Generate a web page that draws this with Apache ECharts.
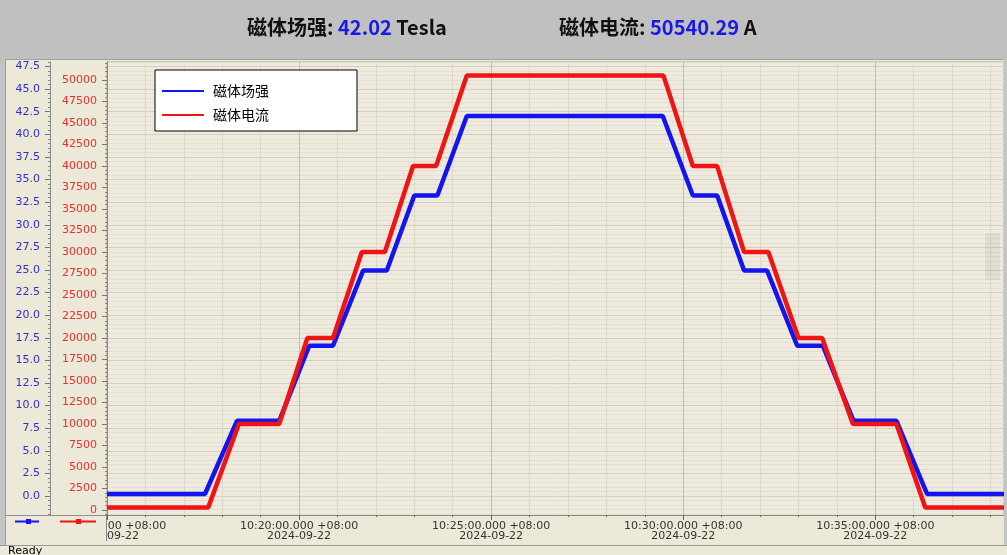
<!DOCTYPE html>
<html><head><meta charset="utf-8">
<script src="https://cdn.jsdelivr.net/npm/echarts@6/dist/echarts.min.js"></script>
<style>html,body{margin:0;padding:0;background:#ece9d8;}#c{width:1007px;height:555px;}</style>
</head><body><div id="c"></div>
<script>
// ---- data ----
const fieldTimes = ['10:15:00','10:17:33','10:18:23','10:19:29','10:20:16','10:20:53','10:21:40','10:22:17','10:23:00','10:23:36','10:24:22','10:29:28','10:30:15','10:30:53','10:31:35','10:32:11','10:32:58','10:33:38','10:34:26','10:35:33','10:36:21','10:38:21'];
const fieldValues = [0.22,0.22,8.31,8.31,16.62,16.62,24.93,24.93,33.24,33.24,42.02,42.02,33.24,33.24,24.93,24.93,16.62,16.62,8.31,8.31,0.22,0.22];
const currentTimes = ['10:15:00','10:17:38','10:18:26','10:19:29','10:20:13','10:20:53','10:21:38','10:22:14','10:22:58','10:23:34','10:24:22','10:29:29','10:30:15','10:30:53','10:31:35','10:32:13','10:33:00','10:33:37','10:34:25','10:35:33','10:36:18','10:38:21'];
const currentValues = [280,280,10000,10000,20000,20000,30000,30000,40000,40000,50540,50540,40000,40000,30000,30000,20000,20000,10000,10000,280,280];
const teslaTicks = [0,2.5,5,7.5,10,12.5,15,17.5,20,22.5,25,27.5,30,32.5,35,37.5,40,42.5,45,47.5];
const currentTicks = [0,2500,5000,7500,10000,12500,15000,17500,20000,22500,25000,27500,30000,32500,35000,37500,40000,42500,45000,47500,50000];
const seriesNames = ['磁体场强','磁体电流'];
const startTime = '10:15:00';
const endTime = '10:38:21';
const headerField = '42.02';
const headerCurrent = '50540.29';

// ---- helpers ----
function ts(t){ const [h,m,s]=t.split(':').map(Number); return Date.UTC(2024,8,22,h-8,m,s); }
function pad(n){ return String(n).padStart(2,'0'); }
function fmtX(v){ const d=new Date(v+8*3600e3); return pad(d.getUTCHours())+':'+pad(d.getUTCMinutes())+':'+pad(d.getUTCSeconds())+'.000 +08:00\n'+d.getUTCFullYear()+'-'+pad(d.getUTCMonth()+1)+'-'+pad(d.getUTCDate()); }
function minors(ticks, step, lo, hi){ const out=[]; const n=Math.round((hi-lo)/step); for(let i=0;i<=n;i++){ const v=+(lo+i*step).toFixed(4); if(!ticks.includes(v)) out.push(v);} return out; }

const tMin=-2.1, tMax=48.0, cMin=-580, cMax=52100;
const fieldData = fieldTimes.map((t,i)=>[ts(t), fieldValues[i]]);
const currentData = currentTimes.map((t,i)=>[ts(t), currentValues[i]]);
const teslaMinor = minors(teslaTicks, 0.5, -2, 48);
const currentMinor = minors(currentTicks, 500, -500, 52000);

const BLUE='#1414f0', RED='#f01414', BG='#ece9d8';
const grid = {left:107, right:3, top:62, bottom:40, show:true, backgroundColor:'#eeebde', borderColor:'#a8a498', borderWidth:1};
const lblFont = {fontFamily:'DejaVu Sans', fontSize:11};

const chart = echarts.init(document.getElementById('c'), null, {renderer:'canvas'});
chart.setOption({
  backgroundColor: BG,
  animation:false,
  grid: grid,
  legend: {
    left:155, top:70, orient:'vertical', data:[{name:seriesNames[0],icon:'rect'},{name:seriesNames[1],icon:'rect'}],
    itemWidth:42, itemHeight:2, itemGap:10, padding:[14,88,9,7],
    backgroundColor:'#ffffff', borderColor:'#000', borderWidth:1, borderRadius:0,
    textStyle:{fontFamily:'Noto Sans CJK SC', fontSize:14, color:'#000', padding:[0,0,0,4]},
    selectedMode:false
  },
  xAxis: {
    type:'value', min:ts(startTime), max:ts(endTime), interval:300000,
    axisLine:{show:true, onZero:false, lineStyle:{color:'#888', width:1}},
    axisTick:{show:true, length:5, lineStyle:{color:'#666'}},
    minorTick:{show:true, splitNumber:5, length:2, lineStyle:{color:'#666'}},
    axisLabel:{...lblFont, color:'#333', lineHeight:10, margin:6, formatter:fmtX, showMinLabel:true, showMaxLabel:false},
    splitLine:{show:true, lineStyle:{color:'#c4c0b0', width:1}},
    minorSplitLine:{show:true, lineStyle:{color:'#dcd8c8', width:1}}
  },
  yAxis: [
    { type:'value', min:tMin, max:tMax, position:'left', offset:57,
      axisLine:{show:true, onZero:false, lineStyle:{color:'#888'}},
      axisTick:{show:true, length:5, customValues:teslaTicks, lineStyle:{color:'#777'}},
      axisLabel:{...lblFont, color:'#3030c8', margin:10, customValues:teslaTicks, formatter:v=>v.toFixed(1)},
      splitLine:{show:true, lineStyle:{color:'#d4d0c0'}} },
    { type:'value', min:tMin, max:tMax, position:'left', offset:57,
      axisLine:{show:false}, axisLabel:{show:false},
      axisTick:{show:true, length:2, customValues:teslaMinor, lineStyle:{color:'#888'}},
      splitLine:{show:true, lineStyle:{color:'#e3e0d3'}} },
    { type:'value', min:cMin, max:cMax, position:'left', offset:0,
      axisLine:{show:true, onZero:false, lineStyle:{color:'#888'}},
      axisTick:{show:true, length:5, customValues:currentTicks, lineStyle:{color:'#777'}},
      axisLabel:{...lblFont, color:'#e83030', margin:10, customValues:currentTicks, formatter:v=>String(v)},
      splitLine:{show:false} },
    { type:'value', min:cMin, max:cMax, position:'left', offset:0,
      axisLine:{show:false}, axisLabel:{show:false},
      axisTick:{show:true, length:2, customValues:currentMinor, lineStyle:{color:'#888'}},
      splitLine:{show:false} }
  ],
  series: [
    { name:seriesNames[0], type:'line', yAxisIndex:0, data:fieldData, showSymbol:false, lineStyle:{color:BLUE, width:4.5}, itemStyle:{color:BLUE}, z:3 },
    { name:seriesNames[1], type:'line', yAxisIndex:2, data:currentData, showSymbol:false, lineStyle:{color:RED, width:4.5}, itemStyle:{color:RED}, z:4 }
  ],
  graphic: [
    {type:'rect', shape:{x:0,y:0,width:1007,height:59}, style:{fill:'#c0c0c0'}, z:50},
    {type:'line', shape:{x1:0,y1:59.5,x2:1007,y2:59.5}, style:{stroke:'#a0a0a0', lineWidth:1}, z:50},
    {type:'text', left:247, top:17, z:51, style:{
      text:'{k|磁体场强: }{v|'+headerField+'}{k| Tesla}',
      rich:{k:{fontFamily:'Noto Sans CJK SC', fontWeight:'bold', fontSize:20, fill:'#111'}, v:{fontFamily:'Noto Sans CJK SC', fontWeight:'bold', fontSize:20, fill:'#1818e8'}}}},
    {type:'text', left:559, top:17, z:51, style:{
      text:'{k|磁体电流: }{v|'+headerCurrent+'}{k| A}',
      rich:{k:{fontFamily:'Noto Sans CJK SC', fontWeight:'bold', fontSize:20, fill:'#111'}, v:{fontFamily:'Noto Sans CJK SC', fontWeight:'bold', fontSize:20, fill:'#1818e8'}}}},
    {type:'rect', shape:{x:0,y:59,width:5,height:487}, style:{fill:'#c4c4c4'}, z:50},
    {type:'line', shape:{x1:5.5,y1:59,x2:5.5,y2:545}, style:{stroke:'#a0a0a0', lineWidth:1}, z:50},
    {type:'rect', shape:{x:1004,y:59,width:3,height:487}, style:{fill:'#c4c4c4'}, z:50},
    {type:'rect', shape:{x:985,y:233,width:15,height:47}, style:{fill:'rgba(0,0,0,0.05)'}, z:50},
    {type:'rect', shape:{x:6,y:516,width:100.5,height:28}, style:{fill:BG}, z:50},
    {type:'line', shape:{x1:5,y1:515.5,x2:107,y2:515.5}, style:{stroke:'#909090', lineWidth:1}, z:51},
    {type:'line', shape:{x1:106.5,y1:515,x2:106.5,y2:541}, style:{stroke:'#888', lineWidth:1}, z:51},
    {type:'line', shape:{x1:15,y1:521.5,x2:39,y2:521.5}, style:{stroke:BLUE, lineWidth:2}, z:52},
    {type:'rect', shape:{x:26,y:519,width:5,height:5}, style:{fill:BLUE}, z:52},
    {type:'line', shape:{x1:60,y1:521.5,x2:96,y2:521.5}, style:{stroke:RED, lineWidth:2}, z:52},
    {type:'rect', shape:{x:76,y:519,width:5,height:5}, style:{fill:RED}, z:52},
    {type:'line', shape:{x1:0,y1:545.5,x2:1007,y2:545.5}, style:{stroke:'#9a9a9a', lineWidth:1}, z:51},
    {type:'rect', shape:{x:0,y:546,width:1007,height:9}, style:{fill:BG}, z:50},
    {type:'text', left:8, top:546, z:52, style:{text:'Ready', fontFamily:'DejaVu Sans', fontSize:11, fill:'#000'}}
  ]
});
</script></body></html>
